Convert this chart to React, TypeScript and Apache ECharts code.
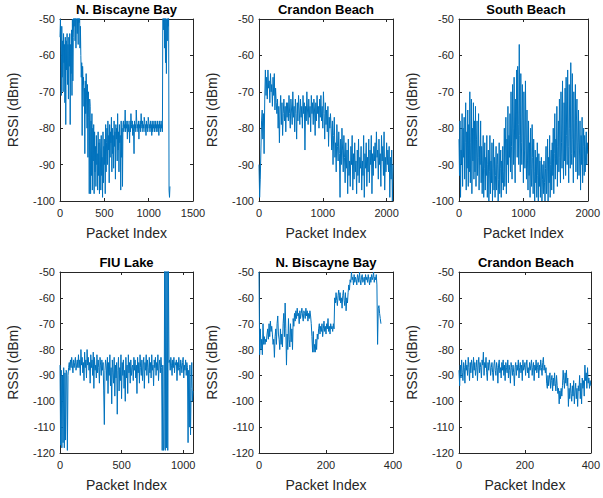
import React, { useEffect, useRef } from 'react';
import * as echarts from 'echarts';

// ---------- DATA ----------
const titles = ['N. Biscayne Bay', 'Crandon Beach', 'South Beach', 'FIU Lake', 'N. Biscayne Bay', 'Crandon Beach'];
const packetSteps = [5, 10, 8, 5, 2, 2];
const xMaxes = [1500, 2100, 2000, 1080, 400, 400];
const xIntervals = [500, 1000, 1000, 500, 200, 200];
const yMins = [-100, -100, -100, -120, -120, -120];
const yMax = -50;
const yInterval = 10;
const xLabel = 'Packet Index';
const yLabel = 'RSSI (dBm)';

// N. Biscayne Bay (top), packet step 5
const rssiBiscayneA = [
  -55, -50, -58, -71, -52, -66, -56, -70, -54, -62,
  -57, -73, -55, -79, -56, -64, -54, -68, -57, -72,
  -55, -63, -54, -79, -57, -65, -53, -71, -50, -67,
  -55,
  -48, -52, -45, -56, -47, -58, -50, -46, -54, -48, -57, -47, -51, -45, -58, -52,
  -60, -66, -62, -82, -63, -68,
  -66, -74, -69, -87, -67, -76, -65, -72, -80, -68, -88, -70, -77, -98, -72,
  -74, -98, -78, -93, -76, -97, -80, -89, -79, -98, -81, -92, -85, -96, -82, -90, -87, -97, -81, -93, -84, -98, -83,
  -86, -97, -82, -93, -88, -99, -81, -95, -85, -90, -83, -98, -79, -92, -84,
  -80, -90, -78, -86, -82, -95, -79, -88, -81, -84, -77, -92, -80, -87, -82, -91, -78, -85, -81, -94,
  -79, -83, -80, -89, -76, -86, -81, -92, -79, -84, -82, -97, -78, -88, -80, -96, -79,
  -78, -81, -79, -80, -75, -81, -78, -80, -79, -83,
  -78, -81, -79, -80, -84, -78, -81, -76, -79, -80,
  -78, -82, -79, -81, -87, -78, -80, -79, -81, -75,
  -78, -80, -79, -81, -78, -83, -79, -80, -78, -81,
  -76, -79, -80, -78, -81, -79, -80, -77, -78, -81,
  -79, -82, -78, -80, -79, -81, -77, -78, -80, -79,
  -81, -78, -80, -79, -82, -78, -81, -79, -80, -78,
  -81, -79, -80, -78, -81, -79, -80, -78, -81, -79,
  -82, -78, -80, -79, -81, -78, -80, -79, -81,
  -45, -48, -53, -46, -58, -47, -62, -49, -65, -50, -56, -47, -52, -48, -97, -99, -96,
];

// Crandon Beach (top), packet step 10
const rssiCrandonA = [
  -90, -99, -94, -86, -78,
  -75, -83, -76, -87, -72,
  -64, -71, -66, -72, -64, -69, -67, -73, -65, -70, -68, -74, -66, -71, -65, -75, -69, -73,
  -76, -72, -80, -74, -84, -75, -71, -79, -73, -82, -76, -72, -78, -74, -81, -73, -77,
  -73, -78, -71, -76, -80, -72, -75, -79, -70, -77,
  -74, -81, -72, -76, -83, -73, -78, -71, -75, -79,
  -72, -77, -74, -80, -71, -76, -73, -86, -74, -78,
  -70, -75, -79, -72, -77, -74, -81, -71, -76, -73,
  -79, -72, -75, -82, -73, -78, -71, -76, -74, -80,
  -72, -77,
  -71, -78, -74, -80, -70, -76, -83, -73, -79, -75, -81, -74, -85, -77, -80, -76,
  -80, -86, -78, -90, -82, -77, -88, -84, -92, -79, -85, -89, -81, -87, -99, -83, -90, -80, -86, -92, -82,
  -88, -95, -84, -91, -86, -98, -83, -93, -89, -96, -85, -90, -82, -97, -87, -94, -84, -92, -89, -98, -86, -93, -83, -95, -88, -91,
  -85, -97, -89, -93, -82, -99, -87, -91, -84, -96, -88, -92, -83, -95, -86, -90, -82, -98, -87, -93, -85, -89,
  -84, -91, -81, -88, -86, -94, -83, -90, -87, -96, -82, -89, -85, -93, -81, -97, -88, -92, -84, -90, -86,
  -92, -85, -99, -88, -94, -86, -100, -90,
];

// South Beach (top), packet step 8
const rssiSouthBeach = [
  -83, -93, -78, -99, -86, -90, -76,
  -96, -80, -88, -77, -94, -84, -73, -97, -81, -91, -75, -96,
  -79, -92, -70, -95, -84, -72, -98, -80, -89, -73, -94, -78, -92,
  -74, -96, -83, -78, -93, -88, -76, -97, -85, -90, -78, -95,
  -85, -98, -89, -82, -99, -91, -84, -97, -88, -93, -82, -99, -90,
  -86, -100, -92, -82, -98, -89, -95, -84, -100, -91, -83, -97,
  -88, -99, -93, -85, -97, -90, -87, -100, -94, -84, -98, -91, -86, -99, -89, -95, -85, -97, -92,
  -80, -96, -86, -77, -98, -83, -90, -74, -95, -82, -88, -76,
  -92, -70, -85, -94, -68, -80, -90, -66, -86, -95, -72, -83, -64,
  -88, -63, -79, -90, -57, -82,
  -92, -65, -84, -90, -68, -78, -95, -70, -86, -91, -67, -83, -94,
  -75, -89, -97, -78, -93, -84, -99, -80, -91, -96, -79, -88,
  -98, -83, -92, -100, -86, -95, -88, -99, -84, -93, -100, -87, -96,
  -89, -99, -92, -88, -100, -94, -90, -98, -89, -95, -100, -91,
  -85, -98, -92, -83, -100, -88, -95, -82, -99, -90, -86, -97, -84,
  -93, -80, -98, -87, -76, -94, -83, -90, -74, -96, -85, -78,
  -92, -72, -88, -95, -70, -84, -91, -67, -86, -94, -73, -89, -69,
  -93, -66, -82, -90, -64, -85, -95, -68, -80, -91, -62, -87,
  -90, -65, -83, -95, -70, -86, -88, -68, -92, -78, -72, -94, -84,
  -75, -93, -86, -78, -97, -82, -90, -77, -95, -85, -80, -93,
  -82, -92, -86, -81, -90, -84, -87,
];

// FIU Lake (bottom), packet step 5
const rssiFiuLake = [
  -86, -117, -88, -118, -90, -116, -87, -118, -89, -115, -88, -89, -119, -90, -87,
  -85, -88, -84, -87, -83, -86, -89, -84, -87, -85, -83, -88, -86, -84, -87,
  -82, -87, -84, -90, -80, -86, -83, -89, -85, -92,
  -81, -87, -84, -91, -80, -86, -83, -88, -85, -93,
  -82, -87, -84, -90, -81, -95, -83, -88, -86, -91,
  -82, -89, -84, -87, -93, -83, -86, -90, -84, -88,
  -85, -96, -109, -88, -84,
  -86, -92, -83, -97, -85, -90, -82, -94, -87, -101,
  -84, -89, -93, -83, -98, -86, -91, -85, -105, -88,
  -83, -96, -87, -92, -82, -99, -85, -90, -84, -95,
  -88, -100, -83, -91, -86, -97, -82, -89, -85, -93,
  -84, -90, -87, -86, -92, -83,
  -88, -84, -91, -86, -97, -83, -89, -85, -93, -82,
  -87, -90, -84, -92, -86, -83, -95, -85, -88, -82,
  -90, -84, -87, -93, -83, -89, -85, -91, -82, -88,
  -86, -94, -84, -87, -83, -90, -85, -88, -82, -92,
  -86, -84, -89, -83, -87,
  -119, -86, -119, -118, -45, -119, -45, -118, -45, -119, -45, -85,
  -84, -88, -83, -86, -90, -84, -87, -83, -89, -85,
  -86, -84, -92, -85, -88, -83, -87, -90, -84, -86,
  -89, -85, -83, -91, -86, -88, -84, -90, -85, -87,
  -116, -88, -110, -86, -113, -95, -85, -100, -96,
];

// N. Biscayne Bay (bottom), packet step 2
const rssiBiscayneB = [
  -50, -82, -72, -80, -76, -82, -70, -78,
  -75, -78, -76, -77, -74,
  -72, -76, -70, -75, -69, -73, -71,
  -74, -78, -76, -83, -75,
  -72, -78, -70, -67, -74,
  -76, -80, -72, -78, -74, -79,
  -70, -66, -75, -62, -72,
  -86, -74, -80, -68, -76, -79, -70, -77, -72, -80, -68, -71,
  -66, -69, -65, -68, -64, -67, -66, -70, -65, -68, -66, -64, -67, -69, -65, -66, -68, -64, -67, -65, -69, -66, -68, -65, -67,
  -70, -75, -81, -73, -81, -78, -81, -76, -80, -74, -76,
  -72, -70, -74, -71, -73, -70, -75, -72, -69, -73, -71, -74, -70, -72, -68, -73, -71, -74, -70, -72, -71, -73, -70, -72,
  -60, -62, -58, -61, -63, -59, -57, -61, -58, -62, -60, -64, -59, -57, -61, -63, -58, -65, -60, -62,
  -58, -55, -57, -53, -54,
  -50, -53, -52, -55, -51, -54, -52, -53, -55, -51,
  -52, -54, -50, -53, -55, -52, -51, -54, -53, -52,
  -55, -51, -53, -52, -54, -51, -53, -55, -52, -54,
  -51, -53, -52, -50, -54, -52, -53, -51,
  -55, -78, -64, -63, -66, -68, -70,
];

// Crandon Beach (bottom), packet step 2
const rssiCrandonB = [
  -88, -94, -86, -91, -84, -89, -92, -85, -87, -93,
  -84, -88, -86, -90, -83, -87, -92, -85, -89, -84,
  -86, -91, -83, -88, -85, -90, -87, -84, -92, -86,
  -83, -89, -85, -87, -91, -84, -86, -81, -90, -85,
  -87, -83, -89, -92, -85, -88, -84, -86, -90, -87,
  -85, -89, -92, -86, -84, -88, -90, -85, -87, -93,
  -86, -84, -89, -87, -91, -85, -88, -84, -90, -86,
  -92, -85, -87, -89, -84, -91, -86, -88, -93, -85,
  -87, -90, -86, -89, -94,
  -87, -85, -90, -86, -88, -84, -91, -87, -85, -89,
  -86, -92, -84, -88, -87, -85, -90, -86, -84, -89,
  -87, -91, -85, -88, -86, -84, -90, -87, -85, -92,
  -86, -88, -84, -89, -87, -85, -91, -86, -88, -84,
  -87, -90, -85, -83, -88, -86, -89, -87,
  -93, -95, -90, -94, -91,
  -89, -95, -92, -90, -96, -91, -94, -89, -93, -96, -90, -94,
  -97, -95, -101, -96, -99, -95, -98, -94,
  -88, -92, -95, -89, -93, -88, -94, -91,
  -102, -95, -99, -93, -97, -100, -94, -98, -92, -101, -96, -93, -99, -95, -102, -94,
  -96, -90, -99, -93, -101, -91, -95, -92, -98,
  -86, -92, -89, -95, -87, -93, -91, -95, -92, -94,
];

const seriesValues = [rssiBiscayneA, rssiCrandonA, rssiSouthBeach, rssiFiuLake, rssiBiscayneB, rssiCrandonB];

// ---------- LAYOUT ----------
const gridBoxes = [
  { left: 60, top: 19, width: 133, height: 182 },
  { left: 259, top: 19, width: 134, height: 182 },
  { left: 459, top: 19, width: 134, height: 182 },
  { left: 60, top: 272, width: 133, height: 181 },
  { left: 259, top: 272, width: 134, height: 181 },
  { left: 459, top: 272, width: 134, height: 181 },
];

const LINE_COLOR = '#0072BD';
const AXIS_COLOR = '#262626';
const FONT = 'Liberation Sans, Arial, Helvetica, sans-serif';

export default function App() {
  const ref = useRef<HTMLDivElement | null>(null);

  useEffect(() => {
    document.body.style.margin = '0';
    if (!ref.current) return;
    const chart = echarts.init(ref.current, undefined, { renderer: 'svg' });

    const grid: any[] = [];
    const xAxis: any[] = [];
    const yAxis: any[] = [];
    const series: any[] = [];
    const graphic: any[] = [];

    gridBoxes.forEach((g, i) => {
      grid.push({ left: g.left, top: g.top, width: g.width, height: g.height, containLabel: false });
      const xi = xIntervals[i];
      const axisLine = { show: true, onZero: false, lineStyle: { color: AXIS_COLOR, width: 1 } };
      const axisTick = { show: true, inside: true, length: 3, lineStyle: { color: AXIS_COLOR, width: 1 } };
      xAxis.push({
        type: 'value', gridIndex: i, min: 0, max: xMaxes[i], interval: xi, position: 'bottom',
        axisLine, axisTick, splitLine: { show: false },
        axisLabel: {
          margin: 6, fontSize: 11, color: AXIS_COLOR, fontFamily: FONT,
          formatter: (v: number) => (v % xi === 0 ? String(v) : ''),
        },
        name: xLabel, nameLocation: 'middle', nameGap: 25,
        nameTextStyle: { fontSize: 14, color: AXIS_COLOR, fontFamily: FONT },
      });
      xAxis.push({
        type: 'value', gridIndex: i, min: 0, max: xMaxes[i], interval: xi, position: 'top',
        axisLine, axisTick, splitLine: { show: false }, axisLabel: { show: false },
      });
      yAxis.push({
        type: 'value', gridIndex: i, min: yMins[i], max: yMax, interval: yInterval, position: 'left',
        axisLine, axisTick, splitLine: { show: false },
        axisLabel: { margin: 5, fontSize: 11, color: AXIS_COLOR, fontFamily: FONT },
        name: yLabel, nameLocation: 'middle', nameGap: 40,
        nameTextStyle: { fontSize: 14, color: AXIS_COLOR, fontFamily: FONT },
      });
      yAxis.push({
        type: 'value', gridIndex: i, min: yMins[i], max: yMax, interval: yInterval, position: 'right',
        axisLine, axisTick, splitLine: { show: false }, axisLabel: { show: false },
      });
      const step = packetSteps[i];
      series.push({
        type: 'line',
        xAxisIndex: i * 2,
        yAxisIndex: i * 2,
        data: seriesValues[i].map((v, k) => [k * step, v]),
        showSymbol: false,
        symbol: 'none',
        clip: true,
        lineStyle: { color: LINE_COLOR, width: 1 },
        itemStyle: { color: LINE_COLOR },
        emphasis: { disabled: true },
      });
      graphic.push({
        type: 'text',
        x: g.left + g.width / 2,
        y: g.top - 10,
        style: {
          text: titles[i],
          textAlign: 'center',
          textVerticalAlign: 'middle',
          align: 'center',
          verticalAlign: 'middle',
          font: `bold 13px ${FONT}`,
          fill: '#000',
        },
      });
    });

    chart.setOption({
      animation: false,
      backgroundColor: '#fff',
      grid,
      xAxis,
      yAxis,
      series,
      graphic,
    });

    return () => chart.dispose();
  }, []);

  return <div ref={ref} style={{ width: 603, height: 498 }} />;
}
